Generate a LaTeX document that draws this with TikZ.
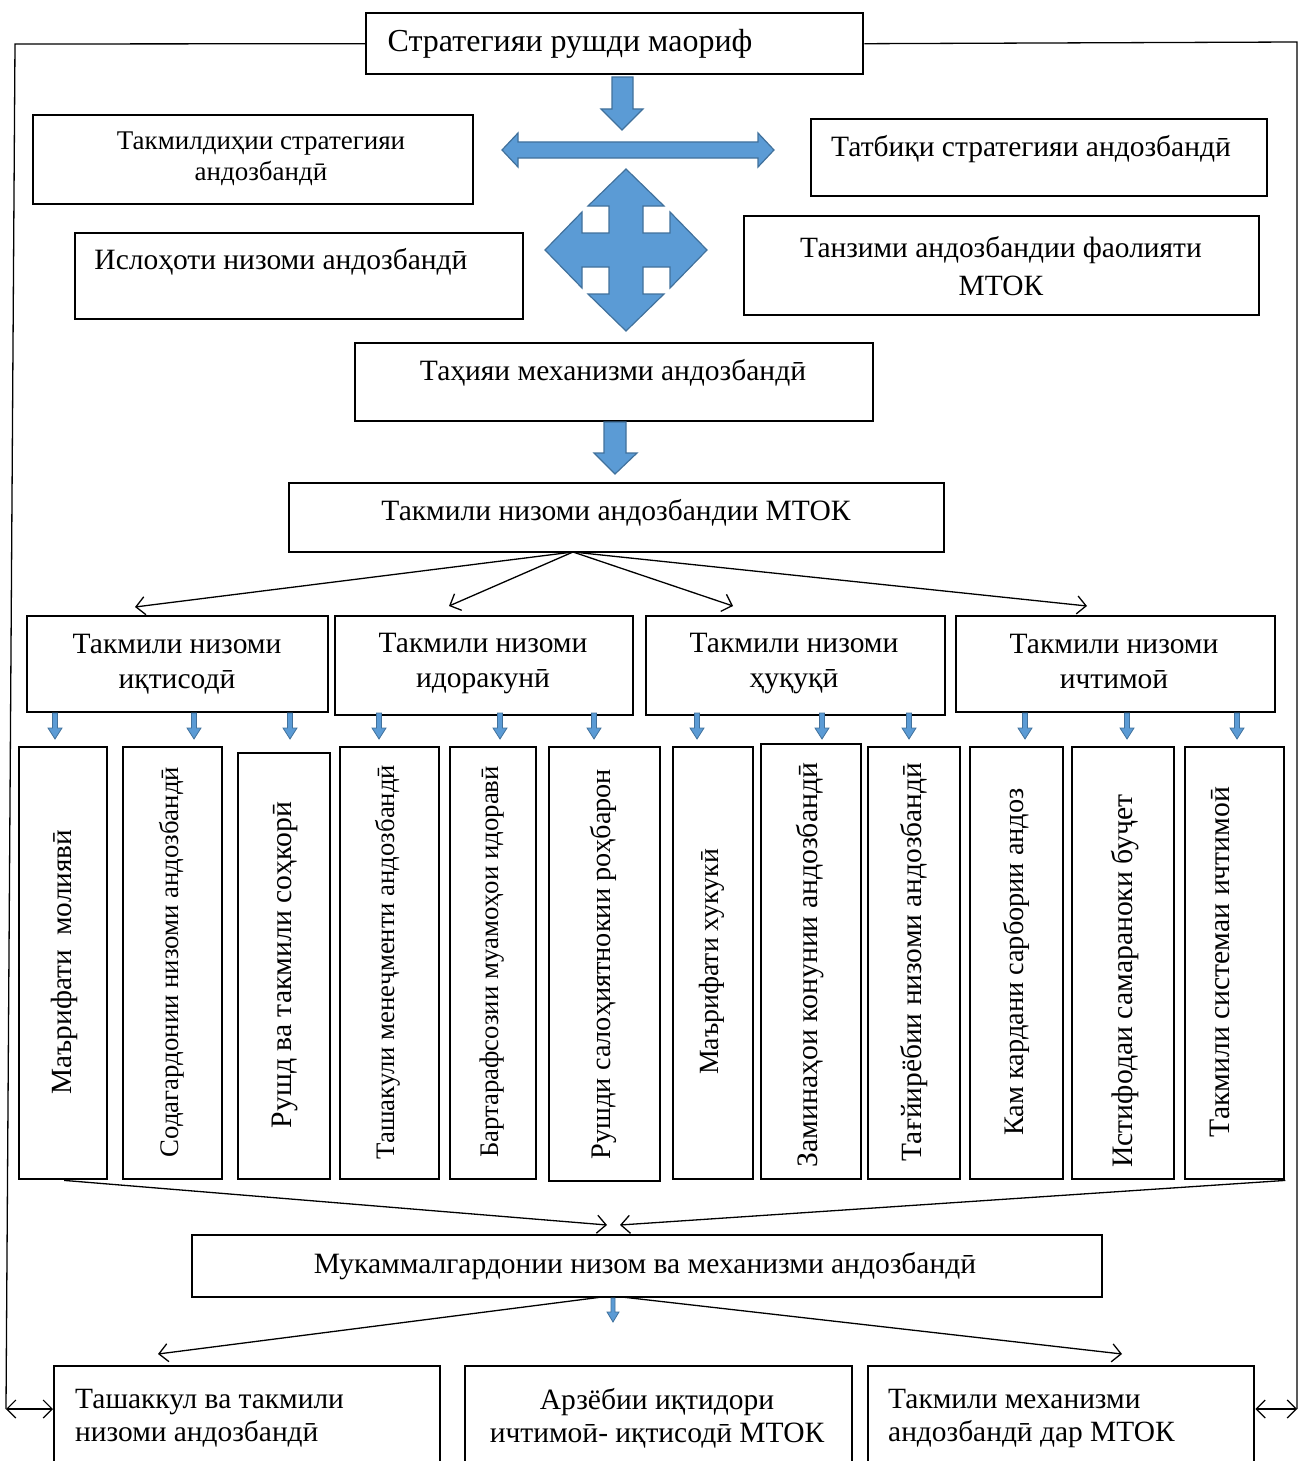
\documentclass[tikz,border=0pt]{standalone}
\usepackage{fontspec}
\setmainfont{Liberation Serif}
\usetikzlibrary{arrows.meta}
\definecolor{bfill}{HTML}{5B9BD5}
\definecolor{bline}{HTML}{41719C}
\tikzset{
 box/.style={draw, line width=2.4pt, inner sep=0pt, anchor=north west},
 txt/.style={align=center, inner sep=0pt, font=\fontsize{29.5}{33}\selectfont},
 ltxt/.style={align=left, inner sep=0pt, anchor=west, font=\fontsize{29.4}{33}\selectfont},
 vtxt/.style={rotate=90, inner sep=0pt, font=\fontsize{26.8}{31}\selectfont},
 conn/.style={line width=1.3pt, -{Straight Barb[length=9pt,width=18pt,line width=1.3pt]}},
 frame/.style={line width=1.3pt},
 dbl/.style={line width=1.2pt, {Straight Barb[length=9pt,width=18pt]}-{Straight Barb[length=9pt,width=18pt]}},
 block/.style={fill=bfill, draw=bline, line width=1.2pt, line join=miter},
}
\newcommand\mybox[5]{\node[box,minimum width=#4pt-#2pt,minimum height=#5pt-#3pt] (#1) at (#2,#3) {};}
\newcommand\fs[1]{\fontsize{#1}{33}\selectfont}
\begin{document}
\begin{tikzpicture}[x=1pt,y=-1pt]
\useasboundingbox (0,0) rectangle (1303,1461);
\clip (0,0) rectangle (1303,1461);
% ---- top boxes
\mybox{title}{365}{12}{862}{73}
\node[txt,font=\fs{32}] (ttitle) at (570,44) {Стратегияи рушди маориф};
\mybox{b1}{32}{114}{472}{203}
\node[txt,font=\fontsize{27}{31}\selectfont] (tb1) at (261,159) {Такмилдиҳии стратегияи\\андозбандӣ};
\mybox{b2}{810}{118}{1266}{195}
\node[txt] (tb2) at (1031,149) {Татбиқи стратегияи андозбандӣ};
\mybox{b3}{74}{232}{522}{318}
\node[txt] (tb3) at (281,262) {Ислоҳоти низоми андозбандӣ};
\mybox{b4}{743}{215}{1258}{314}
\node[txt,font=\fontsize{29.4}{38}\selectfont] (tb4) at (1001,266) {Танзими андозбандии фаолияти\\МТОК};
\mybox{b5}{354}{342}{872}{420}
\node[txt] (tb5) at (613,373) {Таҳияи механизми андозбандӣ};
\mybox{b6}{288}{482}{943}{551}
\node[txt] (tb6) at (616,513) {Такмили низоми андозбандии МТОК};
% ---- block arrows
\filldraw[block] (612,77) -- (633,77) -- (633,109) -- (643,109) -- (622,130) -- (601,109) -- (612,109) -- cycle;
\filldraw[block] (502,150) -- (518,133) -- (518,142) -- (758,142) -- (758,133) -- (774,150) -- (758,167) -- (758,158) -- (518,158) -- (518,167) -- cycle;
\def\cx{626}\def\cy{250}\def\T{81}\def\B{44}\def\H{38}\def\S{17}
\filldraw[block] (\cx,\cy-\T) -- (\cx+\H,\cy-\B) -- (\cx+\S,\cy-\B) -- (\cx+\S,\cy-\S) -- (\cx+\B,\cy-\S) -- (\cx+\B,\cy-\H) -- (\cx+\T,\cy) -- (\cx+\B,\cy+\H) -- (\cx+\B,\cy+\S) -- (\cx+\S,\cy+\S) -- (\cx+\S,\cy+\B) -- (\cx+\H,\cy+\B) -- (\cx,\cy+\T) -- (\cx-\H,\cy+\B) -- (\cx-\S,\cy+\B) -- (\cx-\S,\cy+\S) -- (\cx-\B,\cy+\S) -- (\cx-\B,\cy+\H) -- (\cx-\T,\cy) -- (\cx-\B,\cy-\H) -- (\cx-\B,\cy-\S) -- (\cx-\S,\cy-\S) -- (\cx-\S,\cy-\B) -- (\cx-\H,\cy-\B) -- cycle;
\filldraw[block] (604,422) -- (626,422) -- (626,453) -- (637,453) -- (615,474) -- (594,453) -- (604,453) -- cycle;
% ---- categories
\mybox{c1}{26}{615}{327}{711}
\mybox{c2}{334}{615}{632}{714}
\mybox{c3}{645}{615}{944}{714}
\mybox{c4}{955}{615}{1274}{711}
\node[txt,font=\fontsize{29.5}{35}\selectfont] (tc1) at (177,664) {Такмили низоми\\иқтисодӣ};
\node[txt,font=\fontsize{29.5}{35}\selectfont] (tc2) at (483,664) {Такмили низоми\\идоракунӣ};
\node[txt,font=\fontsize{29.5}{35}\selectfont] (tc3) at (794,664) {Такмили низоми\\ҳуқуқӣ};
\node[txt,font=\fontsize{29.5}{35}\selectfont] (tc4) at (1114,661) {Такмили низоми\\ичтимоӣ};
\coordinate (ms) at (573,552);
\coordinate (e1) at (135,607);
\coordinate (e2) at (449,606);
\coordinate (e3) at (733,606);
\coordinate (e4) at (1087,606);
\foreach \e in {e1,e2,e3,e4} \draw[conn] (ms) -- (\e);
% ---- small arrows
\foreach \x in {55,194,290,379,500,594,697,822,909,1025,1127,1237}
  \filldraw[block,line width=0.8pt] (\x-2.5,713) -- (\x+2.5,713) -- (\x+2.5,728) -- (\x+7,728) -- (\x,739) -- (\x-7,728) -- (\x-2.5,728) -- cycle;
% ---- vertical boxes
\mybox{v1}{18}{746}{106}{1178}
\mybox{v2}{122}{746}{221}{1178}
\mybox{v3}{237}{752}{329}{1178}
\mybox{v4}{339}{746}{438}{1178}
\mybox{v5}{449}{746}{535}{1178}
\mybox{v6}{548}{746}{659}{1180}
\mybox{v7}{672}{746}{752}{1178}
\mybox{v8}{760}{743}{860}{1178}
\mybox{v9}{867}{746}{959}{1178}
\mybox{v10}{969}{746}{1062}{1178}
\mybox{v11}{1071}{746}{1173}{1178}
\mybox{v12}{1184}{746}{1283}{1178}
\node[vtxt,font=\fs{29.3}] (tv1) at (64,962) {Маърифати\ \ молиявӣ};
\node[vtxt] (tv2) at (172,962) {Содагардонии низоми андозбандӣ};
\node[vtxt,font=\fs{29.7}] (tv3) at (285,965) {Рушд ва такмили соҳкорӣ};
\node[vtxt,font=\fs{26.7}] (tv4) at (388,962) {Ташакули менеҷменти андозбандӣ};
\node[vtxt] (tv5) at (492,962) {Бартарафсозии муамоҳои идоравӣ};
\node[vtxt,font=\fs{28.3}] (tv6) at (603,964) {Рушди салоҳиятнокии роҳбарон};
\node[vtxt,font=\fs{27.8}] (tv7) at (712,962) {Маърифати хукукӣ};
\node[vtxt,font=\fs{29.7}] (tv8) at (810,965) {Заминаҳои конунии андозбандӣ};
\node[vtxt,font=\fs{29.4}] (tv9) at (914,962) {Тағйирёбии низоми андозбандӣ};
\node[vtxt,font=\fs{28.3}] (tv10) at (1016,962) {Кам кардани сарбории андоз};
\node[vtxt,font=\fs{29.7}] (tv11) at (1125,981) {Истифодаи самараноки буҷет};
\node[vtxt,font=\fs{29.7}] (tv12) at (1220,962) {Такмили системаи ичтимоӣ};
% ---- converge
\mybox{mk}{191}{1234}{1101}{1296}
\node[txt] (tmk) at (645,1266) {Мукаммалгардонии низом ва механизми андозбандӣ};
\coordinate (k1) at (607,1225);
\coordinate (k2) at (620,1225);
\draw[conn] ([xshift=1pt]v1.south) -- (k1);
\draw[conn] (v12.south east) -- (k2);
\filldraw[block,line width=0.8pt] (611,1298) -- (615,1298) -- (615,1312) -- (619,1312) -- (613,1322) -- (607,1312) -- (611,1312) -- cycle;
% ---- bottom boxes
\mybox{d1}{53}{1365}{439}{1480}
\mybox{d2}{464}{1365}{851}{1480}
\mybox{d3}{867}{1365}{1253}{1480}
\node[ltxt] (td1) at (75,1418) {Ташаккул ва такмили\\низоми андозбандӣ};
\node[txt,font=\fontsize{29.5}{33}\selectfont] (td2) at (657,1418) {Арзёбии иқтидори\\ичтимоӣ- иқтисодӣ МТОК};
\node[ltxt] (td3) at (888,1418) {Такмили механизми\\андозбандӣ дар МТОК};
\coordinate (m1) at (602,1297);
\coordinate (m2) at (622,1297);
\coordinate (f1) at (158,1354);
\coordinate (f2) at (1122,1354);
\draw[conn] (m1) -- (f1);
\draw[conn] (m2) -- (f2);
% ---- outer frame
\coordinate (tl) at (15,44);
\coordinate (bl) at (6,1409);
\coordinate (tr) at (1297,42);
\coordinate (br) at (1297,1409);
\draw[frame] (title.west) -- (tl) -- (bl);
\draw[frame] (title.east) -- (tr) -- (br);
\draw[dbl] (bl) -- (bl -| d1.west);
\draw[dbl] (br) -- (br -| d3.east);
\end{tikzpicture}
\end{document}
